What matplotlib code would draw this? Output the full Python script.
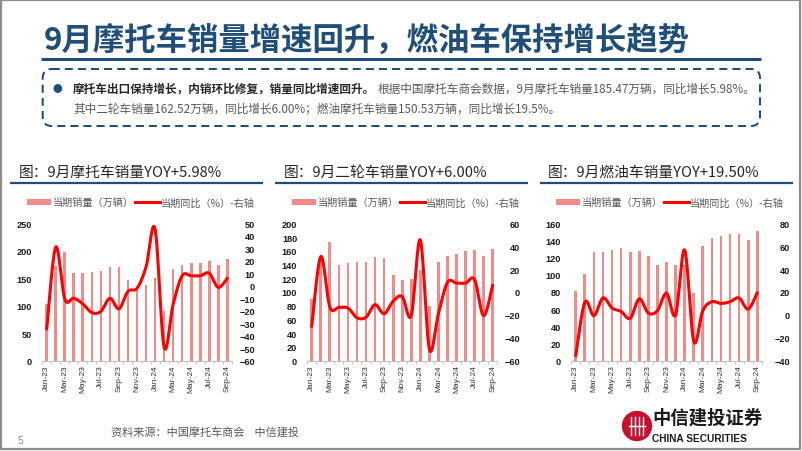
import numpy as np
import matplotlib
matplotlib.use('Agg')
import matplotlib.pyplot as plt
from matplotlib.patches import FancyBboxPatch, Rectangle, Circle, Patch
from matplotlib.lines import Line2D

# ---------------- data ----------------
months = ['Jan-23', 'Feb-23', 'Mar-23', 'Apr-23', 'May-23', 'Jun-23', 'Jul-23',
          'Aug-23', 'Sep-23', 'Oct-23', 'Nov-23', 'Dec-23', 'Jan-24', 'Feb-24',
          'Mar-24', 'Apr-24', 'May-24', 'Jun-24', 'Jul-24', 'Aug-24', 'Sep-24']

moto_sales = [104, 172, 197, 160, 160, 162, 163, 171, 171, 147, 128, 138,
              151, 91, 166, 174, 177, 178, 182, 174, 185.47]
moto_yoy = [-34.6, 31, -10.6, -10, -14.5, -21.5, -20.5, -10, -18.5, -4.5, -2,
            15, 45.5, -49, -15, 8, 8, 8, 10, -1.3, 5.98]

two_sales = [90, 150, 173, 139, 142, 144, 144, 151, 150, 125, 117, 119,
             132, 80, 143, 153, 156, 160, 161, 152, 162.52]
two_yoy = [-30, 31, -13, -13.4, -14, -22.5, -22, -11, -19, -8, -4, -20.5,
           45.4, -49.8, -19, 8.4, 7.8, 7.8, 10.8, -20.7, 6.0]

fuel_sales = [81, 101, 126, 126, 129, 131, 126, 128, 122, 112, 115, 112,
              112, 79, 134, 143, 145, 148, 148, 140, 150.53]
fuel_yoy = [-35.6, 11, -0.7, 14.8, 6, 3, -3, 14, 1.6, 3.7, 19, 0,
            56.7, -23, 3.7, 11.5, 10, 11.5, 14.8, 5, 19.5]

panel_titles = ['图：9月摩托车销量YOY+5.98%', '图：9月二轮车销量YOY+6.00%',
                '图：9月燃油车销量YOY+19.50%']
legend_labels = ['当期销量（万辆）', '当期同比（%）-右轴']

slide_title = '9月摩托车销量增速回升，燃油车保持增长趋势'
para_bold = '摩托车出口保持增长，内销环比修复，销量同比增速回升。'
para_norm1 = '根据中国摩托车商会数据，9月摩托车销量185.47万辆，同比增长5.98%。'
para_line2 = '其中二轮车销量162.52万辆，同比增长6.00%；燃油摩托车销量150.53万辆，同比增长19.5%。'
source_text = '资料来源：中国摩托车商会    中信建投'

# ---------------- style ----------------
CJK = ['Noto Sans CJK SC', 'DejaVu Sans']
NUM = ['Liberation Sans', 'DejaVu Sans']
BLUE = '#1F4E79'
BAR = '#F28A8A'
RED = '#FF0000'
W, H = 802, 452

fig = plt.figure(figsize=(W / 100, H / 100), dpi=100)
fig.patch.set_facecolor('white')

# overlay in pixel coordinates
ov = fig.add_axes([0, 0, 1, 1])
ov.set_xlim(0, W)
ov.set_ylim(H, 0)
ov.axis('off')
ov.patch.set_alpha(0)

# slide border
ov.add_patch(Rectangle((1, 1), W - 3, H - 3, fill=False, ec='#8C8C8C', lw=1.6))

# slide title
ov.text(44, 42, slide_title, family=CJK, fontsize=22.6, fontweight='bold',
        color=BLUE, va='center', ha='left')
ov.plot([41, 761], [60, 60], color=BLUE, lw=2.2, solid_capstyle='butt')

# dashed rounded box
ov.add_patch(FancyBboxPatch((42.7, 70), 760 - 42.7, 57,
                            boxstyle='round,pad=0,rounding_size=9',
                            fill=False, ec=BLUE, lw=1.45,
                            linestyle=(0, (4, 2.5))))
ov.text(57.7, 89, '●', family=CJK, fontsize=7, color=BLUE, va='center', ha='center')
tb = ov.text(73, 89, para_bold, family=CJK, fontsize=8.4, fontweight='bold',
             color='#262626', va='center', ha='left')
fig.canvas.draw()
bb = tb.get_window_extent()
ov.text(bb.x1 + 2, 89, para_norm1, family=CJK, fontsize=8.4, color='#595959',
        va='center', ha='left')
ov.text(73, 109, para_line2, family=CJK, fontsize=8.4, color='#595959',
        va='center', ha='left')

# footer
ov.text(20.7, 441, '5', family=NUM, fontsize=7.5, color='#8C8C8C', va='center', ha='center')
ov.text(111, 432, source_text, family=CJK, fontsize=8, color='#595959',
        va='center', ha='left', style='italic')

# logo
ov.add_patch(Circle((637, 427), 14.5, color='#C8102E'))
for dx in (-6, -2, 2, 6):
    ov.plot([637 + dx, 637 + dx], [418, 436], color='white', lw=1.0)
ov.plot([629, 645], [427, 427], color='white', lw=1.0)
ov.text(652, 418, '中信建投证券', family=CJK, fontsize=13.2, fontweight='bold',
        color='#1A1A1A', va='center', ha='left')
ov.text(652, 439, 'CHINA SECURITIES', family=NUM, fontsize=7.3, fontweight='bold',
        color='#1A1A1A', va='center', ha='left')


def smooth(xv, yv, n=24):
    xv = np.asarray(xv, float)
    yv = np.asarray(yv, float)
    px = np.concatenate([[xv[0]], xv, [xv[-1]]])
    py = np.concatenate([[yv[0]], yv, [yv[-1]]])
    ox, oy = [], []
    for i in range(len(xv) - 1):
        p0x, p1x, p2x, p3x = px[i], px[i + 1], px[i + 2], px[i + 3]
        p0y, p1y, p2y, p3y = py[i], py[i + 1], py[i + 2], py[i + 3]
        c1x = p1x + (p2x - p0x) / 6
        c1y = p1y + (p2y - p0y) / 6
        c2x = p2x - (p3x - p1x) / 6
        c2y = p2y - (p3y - p1y) / 6
        t = np.linspace(0, 1, n, endpoint=(i == len(xv) - 2))
        a = (1 - t) ** 3
        b = 3 * (1 - t) ** 2 * t
        c = 3 * (1 - t) * t ** 2
        d = t ** 3
        ox.append(a * p1x + b * c1x + c * c2x + d * p2x)
        oy.append(a * p1y + b * c1y + c * c2y + d * p2y)
    return np.concatenate(ox), np.concatenate(oy)


panels = [
    dict(sales=moto_sales, yoy=moto_yoy, title=panel_titles[0],
         left=42.2, right=231.8, lylim=(0, 250), lstep=50, rylim=(-60, 50), rstep=10,
         rpad=23.2, tx=19, ux=(10, 263)),
    dict(sales=two_sales, yoy=two_yoy, title=panel_titles[1],
         left=307.2, right=497.2, lylim=(0, 200), lstep=20, rylim=(-60, 60), rstep=20,
         rpad=22.8, tx=284, ux=(275, 528)),
    dict(sales=fuel_sales, yoy=fuel_yoy, title=panel_titles[2],
         left=571.2, right=761.8, lylim=(0, 160), lstep=20, rylim=(-40, 80), rstep=20,
         rpad=28.0, tx=548, ux=(540, 793)),
]

top_px, bot_px = 224.3, 361.7
for p in panels:
    # title + underline
    ov.text(p['tx'], 172.7, p['title'], family=CJK, fontsize=10.6, color='#262626',
            va='center', ha='left')
    ov.plot(list(p['ux']), [184, 184], color=BLUE, lw=1.6, solid_capstyle='butt')

    ax = fig.add_axes([p['left'] / W, 1 - bot_px / H, (p['right'] - p['left']) / W,
                       (bot_px - top_px) / H])
    x = np.arange(len(months))
    ax.bar(x, p['sales'], width=0.3, color=BAR, zorder=2)
    ax.set_xlim(-0.5, len(months) - 0.5)
    ax.set_ylim(*p['lylim'])
    ax.set_yticks(np.arange(p['lylim'][0], p['lylim'][1] + 0.1, p['lstep']))
    ax.set_xticks(x[::2])
    ax.set_xticklabels(months[::2], rotation=90, family=NUM, fontsize=6, color='#333333')
    ax.set_xticks(np.arange(-0.5, len(months), 1), minor=True)
    ax.tick_params(axis='x', which='major', length=0, pad=2.5)
    ax.tick_params(axis='x', which='minor', length=2.5, color='#BFBFBF', width=0.6)
    ax.tick_params(axis='y', length=0, pad=7.2, labelsize=6.6, labelcolor='#1A1A1A')
    for lab in ax.get_yticklabels():
        lab.set_family(NUM)
        lab.set_fontweight('bold')
    for s in ['top', 'left', 'right']:
        ax.spines[s].set_visible(False)
    ax.spines['bottom'].set_color('#BFBFBF')
    ax.spines['bottom'].set_linewidth(0.7)
    ax.patch.set_alpha(0)

    ax2 = ax.twinx()
    sx, sy = smooth(x, p['yoy'])
    ax2.plot(sx, sy, color=RED, lw=2.2, solid_capstyle='round', zorder=3)
    ax2.set_ylim(*p['rylim'])
    ax2.set_yticks(np.arange(p['rylim'][0], p['rylim'][1] + 0.1, p['rstep']))
    ax2.tick_params(axis='y', length=0, pad=p['rpad'] / 1.389, labelsize=6.6,
                    labelcolor='#1A1A1A')
    for lab in ax2.get_yticklabels():
        lab.set_family(NUM)
        lab.set_fontweight('bold')
        lab.set_horizontalalignment('right')
    for s in ax2.spines.values():
        s.set_visible(False)

    handles = [Patch(facecolor=BAR, edgecolor='none'),
               Line2D([], [], color=RED, lw=2.2)]
    cx = ((p['left'] - 13.5 + 253 - 42.2 + p['left']) / 2 - p['left']) / (p['right'] - p['left'])
    leg = ax2.legend(handles, legend_labels, ncol=2, loc='center',
                     bbox_to_anchor=(cx, 1 + 21 / (bot_px - top_px)),
                     frameon=False, prop={'family': CJK, 'size': 7.3},
                     labelcolor='#595959', handlelength=2.4, handleheight=0.6,
                     handletextpad=0.15, columnspacing=0.2, borderpad=0, borderaxespad=0)

fig.savefig('out.png', dpi=100, facecolor='white')
